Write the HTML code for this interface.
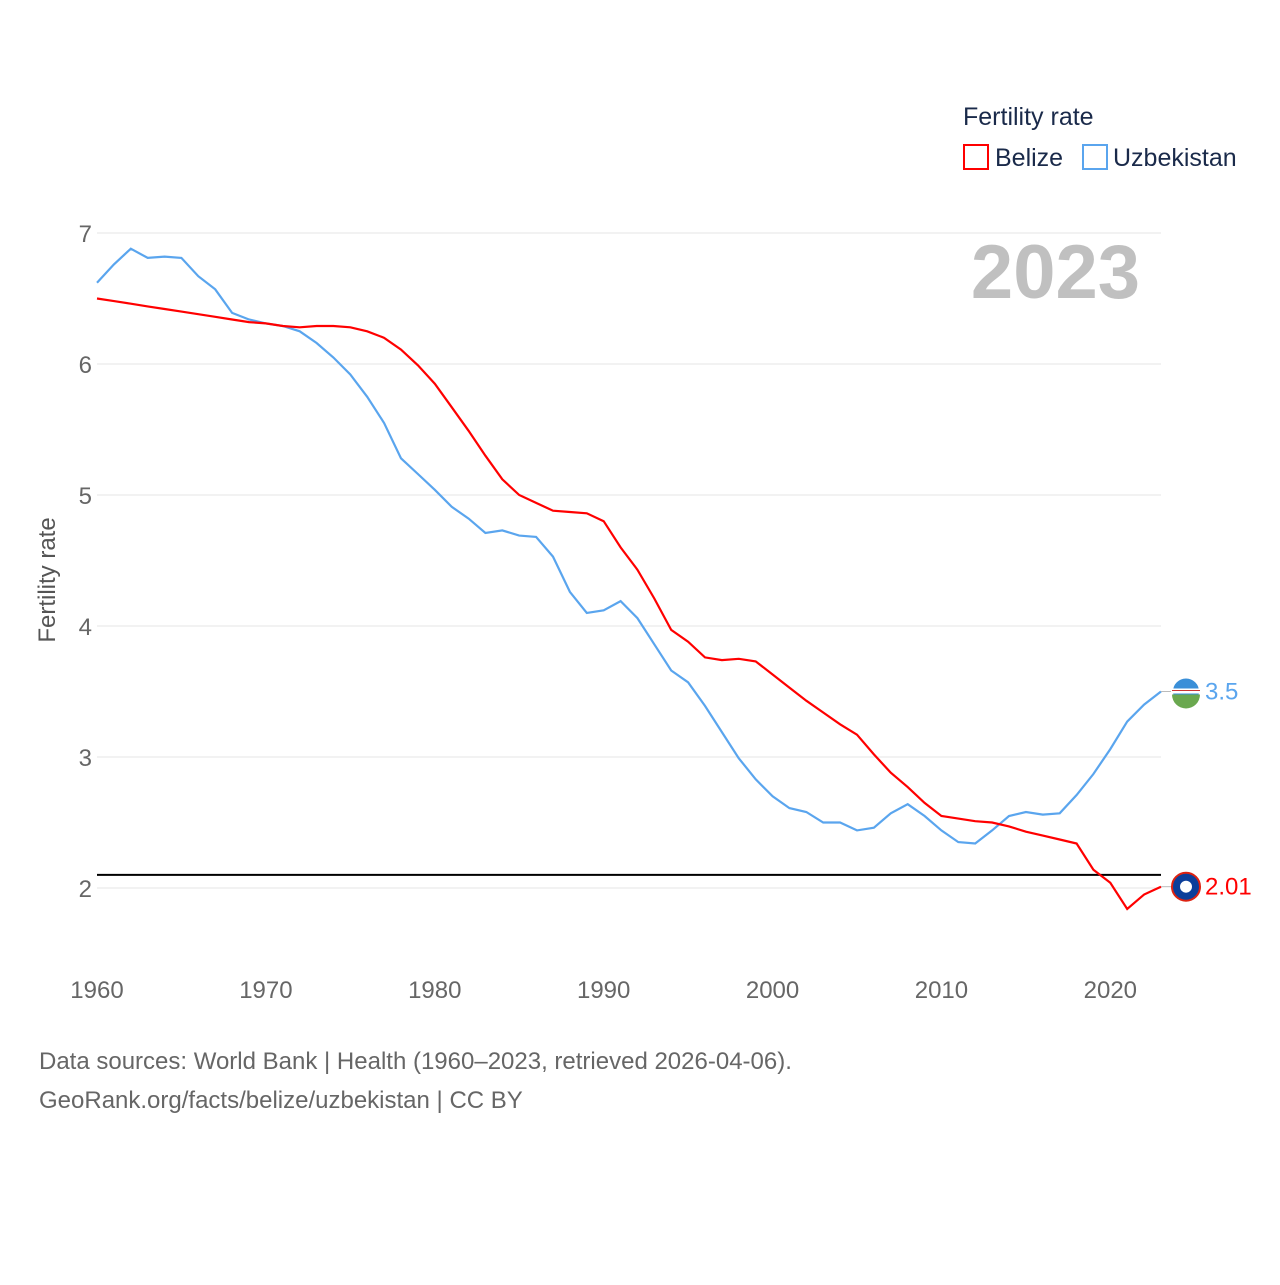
<!DOCTYPE html>
<html><head><meta charset="utf-8"><style>
body{margin:0;background:#fff;font-family:"Liberation Sans",sans-serif}
svg text{font-family:"Liberation Sans",sans-serif}
</style></head><body>
<svg id="chart" width="1280" height="1280" viewBox="0 0 1280 1280">
<g id="grid"></g>
<g id="xticks"></g>
<text x="55" y="580" transform="rotate(-90 55 580)" font-size="24" fill="#555" text-anchor="middle">Fertility rate</text>
<text x="1140" y="298" font-size="76" font-weight="bold" fill="#c0c0c0" text-anchor="end">2023</text>
<g>
<text x="963" y="125" font-size="25" fill="#1a2a4a">Fertility rate</text>
<g><rect x="964" y="145" width="24" height="24" fill="none" stroke="#f00" stroke-width="2"/><text x="995" y="166" font-size="25" fill="#1a2a4a">Belize</text></g>
<g><rect x="1083" y="145" width="24" height="24" fill="none" stroke="#5aa5ee" stroke-width="2"/><text x="1113" y="166" font-size="25" fill="#1a2a4a">Uzbekistan</text></g>
</g>
<g id="series"></g>
<text x="39" y="1069" font-size="24" fill="#666">Data sources: World Bank | Health (1960–2023, retrieved 2026-04-06).</text>
<text x="39" y="1108" font-size="24" fill="#666">GeoRank.org/facts/belize/uzbekistan | CC BY</text>
</svg>
<script>
const years=[];for(let y=1960;y<=2023;y++)years.push(y);
const belize=[6.5,6.48,6.46,6.44,6.42,6.40,6.38,6.36,6.34,6.32,6.31,6.29,6.28,6.29,6.29,6.28,6.25,6.2,6.11,5.99,5.85,5.67,5.49,5.3,5.12,5.0,4.94,4.88,4.87,4.86,4.8,4.6,4.43,4.21,3.97,3.88,3.76,3.74,3.75,3.73,3.63,3.53,3.43,3.34,3.25,3.17,3.02,2.88,2.77,2.65,2.55,2.53,2.51,2.50,2.47,2.43,2.40,2.37,2.34,2.14,2.04,1.84,1.95,2.01];
const uzbekistan=[6.62,6.76,6.88,6.81,6.82,6.81,6.67,6.57,6.39,6.34,6.31,6.29,6.25,6.16,6.05,5.92,5.75,5.55,5.28,5.16,5.04,4.91,4.82,4.71,4.73,4.69,4.68,4.53,4.26,4.10,4.12,4.19,4.06,3.86,3.66,3.57,3.39,3.19,2.99,2.83,2.70,2.61,2.58,2.50,2.50,2.44,2.46,2.57,2.64,2.55,2.44,2.35,2.34,2.44,2.55,2.58,2.56,2.57,2.71,2.87,3.06,3.27,3.40,3.50];
const yTicks=[2,3,4,5,6,7];
const xTicks=[1960,1970,1980,1990,2000,2010,2020];
const replacementRate=[2.1];
const ns="http://www.w3.org/2000/svg";
const X=v=>97+(v-1960)*(1161-97)/63;
const Y=v=>888-(v-2)*131;
function mk(t,a,p){const e=document.createElementNS(ns,t);for(const k in a)e.setAttribute(k,a[k]);p.appendChild(e);return e;}
const grid=document.getElementById('grid');
yTicks.forEach(t=>{
 const l=mk('line',{x1:97,x2:1161,y1:Y(t),y2:Y(t),stroke:'#e6e6e6','stroke-width':1},grid);
 
 
 const tx=mk('text',{x:92,y:Y(t)+9,'font-size':24,fill:'#666','text-anchor':'end'},grid);tx.textContent=t;
 
 
});
const xg=document.getElementById('xticks');
xTicks.forEach(t=>{
 const tx=mk('text',{x:X(t),y:998,'font-size':24,fill:'#666','text-anchor':'middle'},xg);tx.textContent=t;
 
 
});
const sg=document.getElementById('series');
replacementRate.forEach(r=>{
 const l=mk('line',{x1:97,x2:1161,y1:Y(r),y2:Y(r),stroke:'#000','stroke-width':2},sg);
 
 
});
function series(vals,col,name,label){
 const d=vals.map((v,i)=>(i?'L':'M')+X(years[i]).toFixed(1)+','+Y(v).toFixed(1)).join('');
 const p=mk('path',{d:d,fill:'none',stroke:col,'stroke-width':2.2},sg);
 
 
 const last=vals[vals.length-1],ly=Y(last);
 mk('line',{x1:X(2023),x2:1175,y1:ly,y2:ly,stroke:'#bbb','stroke-width':1},sg);
 const c=mk('circle',{cx:1186,cy:ly,r:14,fill:name==='belize'?'#0b3e9a':'#3a8fd8',stroke:name==='belize'?'#d21':'#fff','stroke-width':2},sg);
 
 
 if(name==='belize'){mk('circle',{cx:1186,cy:ly,r:6,fill:'#fff'},sg);}
 else{mk('path',{d:`M1172,${ly+3}A14,14 0 0 0 1200,${ly+3}Z`,fill:'#6aa84f'},sg);mk('rect',{x:1172,y:ly-3,width:28,height:5,fill:'#fff'},sg);mk('line',{x1:1172,x2:1200,y1:ly-1,y2:ly-1,stroke:'#c33','stroke-width':1},sg);}
 const t=mk('text',{x:1205,y:ly+8,'font-size':24,fill:col},sg);t.textContent=label;
 
 
}
series(uzbekistan,'#5aa5ee','uzbekistan',String(uzbekistan[uzbekistan.length-1]));
series(belize,'#f00','belize',belize[belize.length-1].toFixed(2));
</script>
</body></html>
